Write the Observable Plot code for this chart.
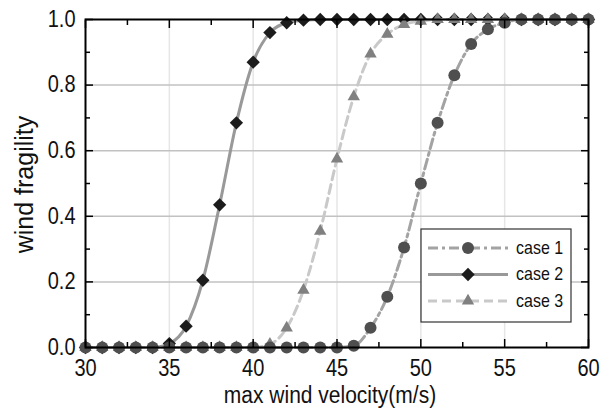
<!DOCTYPE html>
<html><head><meta charset="utf-8">
<script src="https://cdn.jsdelivr.net/npm/d3@7"></script>
<script src="https://cdn.jsdelivr.net/npm/@observablehq/plot@0.6"></script>
<style>
body{margin:0;background:#fff;}
#chart{position:relative;width:611px;height:408px;}
#chart svg{font-family:"Liberation Sans",Arial,sans-serif;}
#legend{position:absolute;left:0;top:0;}
</style></head><body><div id="chart"></div>
<script>
const velocity = [30,31,32,33,34,35,36,37,38,39,40,41,42,43,44,45,46,47,48,49,50,51,52,53,54,55,56,57,58,59,60];
const case1 = [0,0,0,0,0,0,0,0,0,0,0,0,0,0,0,0,0.005,0.06,0.155,0.305,0.5,0.685,0.83,0.925,0.97,0.99,1,1,1,1,1];
const case2 = [0,0,0,0,0,0.012,0.065,0.205,0.435,0.685,0.87,0.96,0.99,0.998,1,1,1,1,1,1,1,1,1,1,1,1,1,1,1,1,1];
const case3 = [0,0,0,0,0,0,0,0,0,0,0,0.01,0.06,0.175,0.355,0.575,0.765,0.895,0.955,0.985,0.995,1,1,1,1,1,1,1,1,1,1];
const seriesNames = ["case 1","case 2","case 3"];
const xMajor = [30,35,40,45,50,55,60];
const xMinor = [32.5,37.5,42.5,47.5,52.5,57.5];
const yMajor = [0,0.2,0.4,0.6,0.8,1.0];
const yMinor = [0.1,0.3,0.5,0.7,0.9];
const xTitle = "max wind velocity(m/s)";
const yTitle = "wind fragility";

const styles = {
  "case 1": {line:"#a3a3a3", dash:"10,4,3,4", marker:"#4f4f4f", symbol:"circle", r:6},
  "case 2": {line:"#999999", dash:null, marker:"#1c1c1c", symbol:"diamond2", r:6},
  "case 3": {line:"#c9c9c9", dash:"9,5", marker:"#808080", symbol:"triangle", r:4.6}
};
const values = {"case 1": case1, "case 2": case2, "case 3": case3};
const table = name => velocity.map((v,i)=>({v, p: values[name][i], s: name}));

const drawOrder = ["case 2","case 3","case 1"];
const seriesMarks = drawOrder.flatMap(name => {
  const st = styles[name];
  const d = table(name);
  return [
    Plot.line(d, {x:"v", y:"p", curve:"monotone-x", stroke: st.line, strokeWidth: 3, strokeDasharray: st.dash}),
    Plot.dot(d, {x:"v", y:"p", symbol: st.symbol, r: st.r, fill: st.marker, stroke: "none"})
  ];
});

const font = "Liberation Sans, Arial, sans-serif";
const tickStyle = {tickFormat: () => "", label: null, stroke: "#000", strokeWidth: 1.5};
const plot = Plot.plot({
  width: 611, height: 408,
  marginLeft: 85, marginRight: 23, marginTop: 19, marginBottom: 61,
  style: {fontFamily: font, fontSize: "20px", background: "white", color: "#111", overflow: "visible"},
  x: {domain: [30, 60], label: null},
  y: {domain: [0, 1], label: null},
  marks: [
    Plot.gridX(xMajor.filter(v => v > 30 && v < 60), {stroke: "#e6e6e6", strokeOpacity: 1, strokeWidth: 1.5}),
    Plot.gridY(yMajor.filter(v => v > 0 && v < 1), {stroke: "#c2c2c2", strokeOpacity: 1, strokeWidth: 1.5}),
    ...seriesMarks,
    Plot.frame({stroke: "#000", strokeWidth: 2}),
    Plot.axisX({ticks: xMajor, tickSize: -8, ...tickStyle}),
    Plot.axisX({ticks: xMinor, tickSize: -5, ...tickStyle}),
    Plot.axisX({anchor: "top", ticks: xMajor, tickSize: -8, ...tickStyle}),
    Plot.axisX({anchor: "top", ticks: xMinor, tickSize: -5, ...tickStyle}),
    Plot.axisY({ticks: yMajor, tickSize: -8, ...tickStyle}),
    Plot.axisY({ticks: yMinor, tickSize: -5, ...tickStyle}),
    Plot.axisY({anchor: "right", ticks: yMajor, tickSize: -8, ...tickStyle}),
    Plot.axisY({anchor: "right", ticks: yMinor, tickSize: -5, ...tickStyle}),
    Plot.axisX({ticks: xMajor, tickSize: 0, tickPadding: 12.5, tickFormat: d3.format("d"), label: null, fill: "#111", fontSize: 20}),
    Plot.axisY({ticks: yMajor, tickSize: 0, tickPadding: 10, tickFormat: d3.format(".1f"), label: null, fill: "#111", fontSize: 20}),
    Plot.text([xTitle], {frameAnchor: "bottom", textAnchor: "middle", lineAnchor: "middle", text: d => d, dy: 48, dx: -7, fontSize: 21, fill: "#111"}),
    Plot.text([yTitle], {frameAnchor: "left", textAnchor: "middle", lineAnchor: "middle", text: d => d, rotate: -90, dx: -61, dy: 1, fontSize: 25, fill: "#111"})
  ]
});
document.getElementById("chart").appendChild(plot);

// vertical stretch of horizontal texts, as in the reference rendering
function stretch(el, s) {
  const t = el.getAttribute("transform");
  if (t) el.setAttribute("transform", t + ` scale(1,${s})`);
  else {
    const x = +el.getAttribute("x") || 0, y = +el.getAttribute("y") || 0;
    el.setAttribute("transform", `translate(${x},${y}) scale(1,${s}) translate(${-x},${-y})`);
  }
}
d3.select(plot).selectAll("text").each(function() {
  if (this.textContent === yTitle) return;
  stretch(this, this.textContent === xTitle ? 1.1 : 1.15);
});

// legend overlay
const lg = d3.select("#chart").append("svg").attr("id","legend").attr("width",611).attr("height",408)
  .style("font-family", font);
lg.append("rect").attr("x",421).attr("y",229).attr("width",150).attr("height",93)
  .attr("fill","white").attr("stroke","#333").attr("stroke-width",1.2);
const symMap = {circle:d3.symbolCircle, diamond2:d3.symbolDiamond2, triangle:d3.symbolTriangle};
seriesNames.forEach((name,i) => {
  const st = styles[name];
  const y = 248 + i*26.5;
  lg.append("line").attr("x1",428).attr("x2",508).attr("y1",y).attr("y2",y)
    .attr("stroke",st.line).attr("stroke-width",3).attr("stroke-dasharray",st.dash);
  lg.append("path").attr("d", d3.symbol(symMap[st.symbol], Math.PI*st.r*st.r)()).attr("transform",`translate(468,${y})`)
    .attr("fill",st.marker);
  const t = lg.append("text").attr("x",516).attr("y",y+6).attr("font-size",16).attr("fill","#111").text(name);
  stretch(t.node(), 1.15);
});
</script></body></html>
